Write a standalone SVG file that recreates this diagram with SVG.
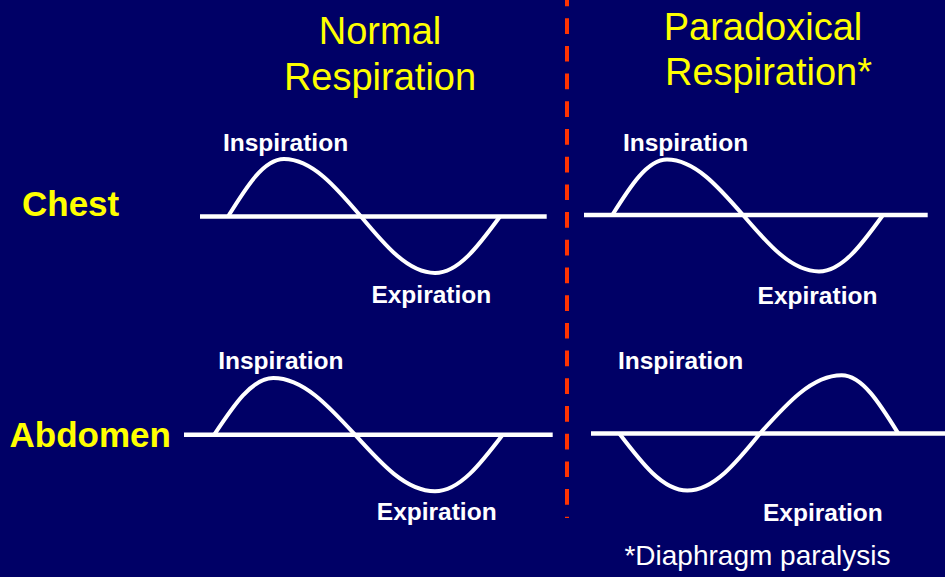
<svg xmlns="http://www.w3.org/2000/svg" width="945" height="577" viewBox="0 0 945 577">
  <style>
    .title { font-family: "Liberation Sans", Arial, sans-serif; font-size: 38px; fill: #FFFF00; text-anchor: middle; }
    .row { font-family: "Liberation Sans", Arial, sans-serif; font-size: 35px; font-weight: bold; fill: #FFFF00; }
    .lbl { font-family: "Liberation Sans", Arial, sans-serif; font-size: 24.5px; font-weight: bold; fill: #FFFFFF; text-anchor: middle; }
    .note { font-family: "Liberation Sans", Arial, sans-serif; font-size: 28px; fill: #FFFFFF; text-anchor: middle; }
    .base { stroke: #FFFFFF; stroke-width: 4.6; fill: none; }
    .wave { stroke: #FFFFFF; stroke-width: 4; fill: none; stroke-linejoin: round; }
    .divider { stroke: #FF3300; stroke-width: 4; stroke-dasharray: 15.7 12; fill: none; }
  </style>
  <rect x="0" y="0" width="945" height="577" fill="#000066"/>

  <g id="divider">
    <line class="divider" x1="567" y1="-9.5" x2="567" y2="518"/>
  </g>

  <g id="title-normal">
    <text class="title" x="380" y="44">Normal</text>
    <text class="title" x="380" y="90">Respiration</text>
  </g>
  <g id="title-paradoxical">
    <text class="title" x="763" y="40">Paradoxical</text>
    <text class="title" x="768.5" y="85">Respiration*</text>
  </g>

  <g id="label-chest">
    <text class="row" x="22" y="216">Chest</text>
  </g>
  <g id="label-abdomen">
    <text class="row" x="9.5" y="447">Abdomen</text>
  </g>

  <g id="chest-normal">
    <line class="base" x1="200" y1="216.5" x2="546.7" y2="216.5"/>
    <path class="wave" d="M228,216.5 C246.3,187 263.7,159 284,159 C311.9,159 335.9,187 361,216.5 C385.1,245.4 408.2,273 435,273 C458.5,273 478.8,245.4 500,216.5"/>
    <text class="lbl" x="285.5" y="150.7">Inspiration</text>
    <text class="lbl" x="431.3" y="303.3">Expiration</text>
  </g>

  <g id="chest-paradoxical">
    <line class="base" x1="584" y1="215" x2="927.7" y2="215"/>
    <path class="wave" d="M612.3,215 C630.1,186.6 647.2,159.5 667,159.5 C694.5,159.5 718.2,186.6 743,215 C767.8,243.9 791.5,271.5 819,271.5 C842.2,271.5 862.1,243.9 883,215"/>
    <text class="lbl" x="685.5" y="150.7">Inspiration</text>
    <text class="lbl" x="817.5" y="304">Expiration</text>
  </g>

  <g id="abdomen-normal">
    <line class="base" x1="184" y1="434.7" x2="552.7" y2="434.7"/>
    <path class="wave" d="M214.3,434.7 C233.5,405.7 251.9,378 273.3,378 C302.9,378 328.4,405.7 355,434.7 C381.1,463.7 406,491.3 435,491.3 C459.5,491.3 480.6,463.7 502.7,434.7"/>
    <text class="lbl" x="280.8" y="369.3">Inspiration</text>
    <text class="lbl" x="436.7" y="520">Expiration</text>
  </g>

  <g id="abdomen-paradoxical">
    <line class="base" x1="591" y1="433.5" x2="945" y2="433.5"/>
    <path class="wave" d="M619.3,433.5 C641.5,462.7 662.7,490.5 687.3,490.5 C713.6,490.5 736.3,462.7 760,433.5 C786.6,403.7 812.1,375.3 841.7,375.3 C862.2,375.3 879.8,403.7 898.3,433.5"/>
    <text class="lbl" x="680.5" y="369.3">Inspiration</text>
    <text class="lbl" x="822.9" y="520.7">Expiration</text>
  </g>

  <g id="footnote">
    <text class="note" x="757.5" y="565">*Diaphragm paralysis</text>
  </g>
</svg>
